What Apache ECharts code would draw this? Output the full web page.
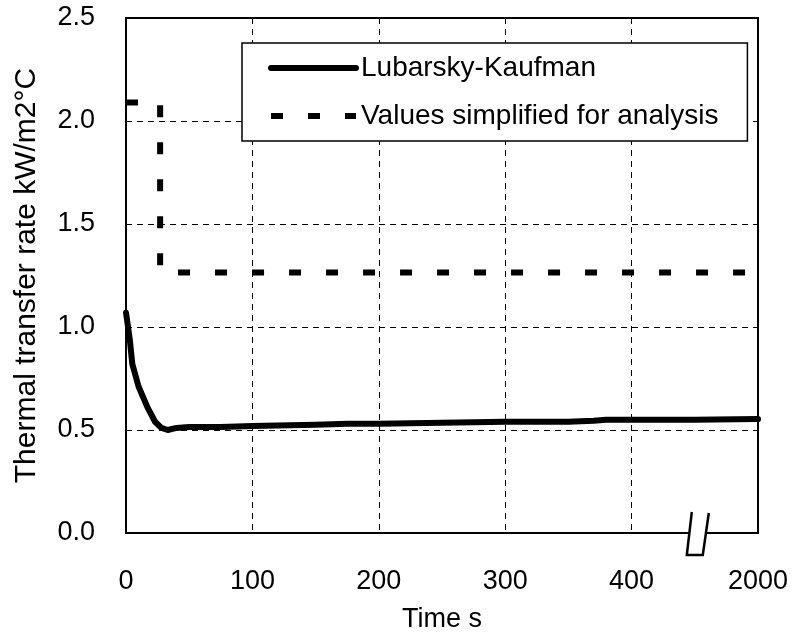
<!DOCTYPE html>
<html><head><meta charset="utf-8">
<script src="https://cdn.jsdelivr.net/npm/echarts@6/dist/echarts.min.js"></script>
<style>html,body{margin:0;padding:0;background:#fff}#c{width:794px;height:635px}</style>
</head><body><div id="c"></div>
<script>
// Lubarsky-Kaufman curve (time s, kW/m2°C)
const lkTime = [0, 3, 5, 10, 17, 23, 28, 33, 40, 50, 75, 100, 150, 175, 200, 250, 300, 350, 370, 380, 450, 2000];
const lkRate = [1.07, 0.94, 0.82, 0.71, 0.61, 0.54, 0.51, 0.50, 0.51, 0.515, 0.515, 0.52, 0.525, 0.53, 0.53, 0.535, 0.54, 0.54, 0.545, 0.55, 0.55, 0.553];
// Values simplified for analysis
const simpTime = [0, 27, 27, 2000];
const simpRate = [2.09, 2.09, 1.265, 1.265];
// Tick labels
const xTickTimes = [0, 100, 200, 300, 400, 2000];
const yTickLabels = ['0.0', '0.5', '1.0', '1.5', '2.0', '2.5'];
const seriesNames = ['Lubarsky-Kaufman', 'Values simplified for analysis'];

// broken time axis: 0..450 linear, 450..2000 compressed into 450..500
const BREAK_AT = 450, BREAK_END = 2000, AXIS_END = 500;
function toAxis(t) { return t <= BREAK_AT ? t : BREAK_AT + (t - BREAK_AT) * (AXIS_END - BREAK_AT) / (BREAK_END - BREAK_AT); }
function axisLabel(v) {
  for (const t of xTickTimes) { if (Math.abs(toAxis(t) - v) < 1e-6) return String(t); }
  return '';
}

const FONT = "'Liberation Sans', Arial, sans-serif";
const chart = echarts.init(document.getElementById('c'), null, { renderer: 'canvas' });
chart.setOption({
  animation: false,
  backgroundColor: '#fff',
  grid: { left: 126, right: 36, top: 18, bottom: 102, outerBoundsMode: 'none', containLabel: false,
          show: true, borderColor: '#000', borderWidth: 2, backgroundColor: 'transparent' },
  legend: {
    left: 242, top: 43, orient: 'vertical',
    padding: [10, 29, 10, 26], itemGap: 18,
    itemWidth: 85, itemHeight: 20,
    backgroundColor: '#fff', borderColor: '#000', borderWidth: 1.5, borderRadius: 0,
    itemStyle: { opacity: 0 },
    lineStyle: { width: 6 },
    textStyle: { fontFamily: FONT, fontSize: 28, color: '#000', lineHeight: 30 },
    data: seriesNames
  },
  xAxis: {
    type: 'value', min: 0, max: AXIS_END, interval: 100,
    name: 'Time s', nameLocation: 'middle', nameGap: 73,
    nameTextStyle: { fontFamily: FONT, fontSize: 27, color: '#000' },
    axisLine: { show: true, lineStyle: { color: '#000', width: 2 } },
    axisTick: { show: false },
    axisLabel: { margin: 35, fontFamily: FONT, fontSize: 27, color: '#000', formatter: axisLabel, showMaxLabel: true, showMinLabel: true },
    splitLine: { show: true, lineStyle: { color: '#000', width: 1, type: [6, 5] } }
  },
  yAxis: {
    type: 'value', min: 0, max: 2.5, interval: 0.5,
    name: 'Thermal transfer rate kW/m2°C', nameLocation: 'middle', nameGap: 84, nameRotate: 90,
    nameTextStyle: { fontFamily: FONT, fontSize: 30, color: '#000' },
    axisLine: { show: true, lineStyle: { color: '#000', width: 2 } },
    axisTick: { show: false },
    axisLabel: { margin: 31, fontFamily: FONT, fontSize: 27, color: '#000', formatter: (v) => yTickLabels[Math.round(v / 0.5)] },
    splitLine: { show: true, lineStyle: { color: '#000', width: 1, type: [6, 5] } }
  },
  series: [
    {
      name: seriesNames[0], type: 'line', symbol: 'none', smooth: false,
      lineStyle: { color: '#000', width: 6, join: 'round', cap: 'round' },
      itemStyle: { color: '#000' },
      data: lkTime.map((t, i) => [toAxis(t), lkRate[i]]), z: 3
    },
    {
      name: seriesNames[1], type: 'line', symbol: 'none', smooth: false,
      lineStyle: { color: '#000', width: 6, type: [12, 25] },
      itemStyle: { color: '#000' },
      data: simpTime.map((t, i) => [toAxis(t), simpRate[i]]), z: 2
    }
  ]
});

// axis-break mark, positioned through the axis scale
const p = chart.convertToPixel({ xAxisIndex: 0, yAxisIndex: 0 }, [BREAK_AT, 0]);
const cx = p[0] + 2, cy = p[1];
const pts = [[cx - 5, cy - 21], [cx - 10, cy + 22], [cx + 6, cy + 22], [cx + 12, cy - 20]];
chart.setOption({
  graphic: [
    { type: 'polygon', shape: { points: pts }, style: { fill: '#fff', stroke: null }, z: 100 },
    { type: 'polyline', shape: { points: pts }, style: { stroke: '#000', lineWidth: 2.5, fill: null }, z: 101 }
  ]
});
</script></body></html>
